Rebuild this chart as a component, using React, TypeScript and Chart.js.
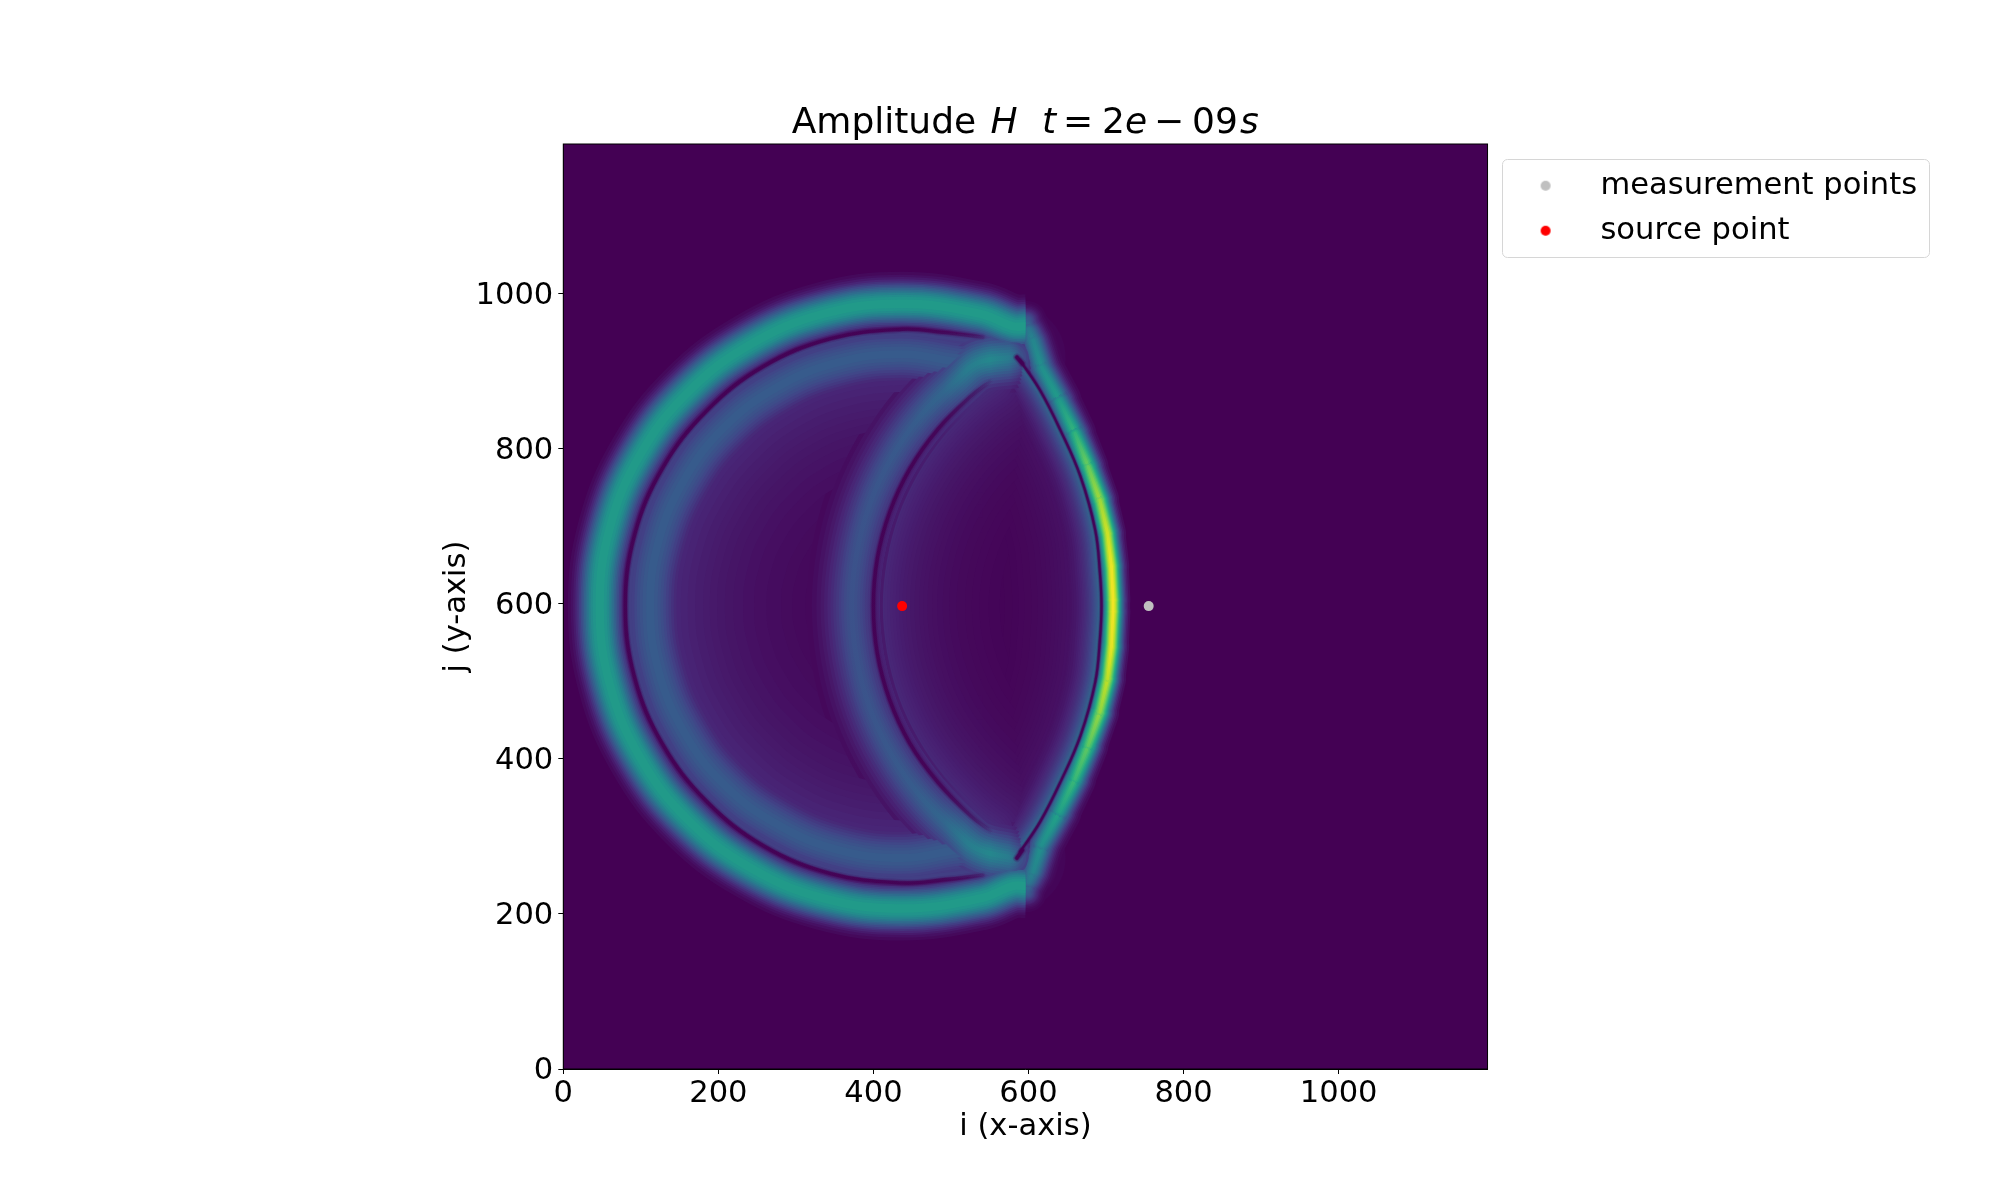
import React, { useEffect, useRef } from "react";
import { Chart, registerables } from "chart.js";
Chart.register(...registerables);

const FONT = "'DejaVu Sans'";
const titleRuns = [
  { text: "Amplitude", x: 791.7, italic: false },
  { text: "H", x: 990.5, italic: true },
  { text: "t", x: 1042, italic: true },
  { text: "=", x: 1063, italic: false },
  { text: "2", x: 1102, italic: false },
  { text: "e", x: 1125, italic: true },
  { text: "\u2212", x: 1154, italic: false },
  { text: "09", x: 1192, italic: false },
  { text: "s", x: 1240, italic: true },
];
const xTitle = "i (x-axis)";
const yTitle = "j (y-axis)";
const measurementLabel = "measurement points";
const sourceLabel = "source point";
const xTickValues = [0, 200, 400, 600, 800, 1000];
const yTickValues = [0, 200, 400, 600, 800, 1000];
const measurementPoint = [{ x: 755, y: 597 }];
const sourcePoint = [{ x: 437, y: 597 }];

const viridisRamp = ["#440154", "#482475", "#414487", "#355f8d", "#2a788e", "#21918c", "#22a884", "#44bf70", "#7ad151", "#bddf26", "#fde725"];
const levels = [0.04, 0.08, 0.13, 0.19, 0.26, 0.33, 0.41, 0.49, 0.57, 0.65, 0.73, 0.8, 0.87, 0.93, 0.98];
const fineLevels = [0.06, 0.08, 0.1, 0.12, 0.14, 0.16, 0.19, 0.22, 0.25, 0.28, 0.31, 0.34, 0.37, 0.4, 0.44, 0.48, 0.52, 0.56, 0.6, 0.64, 0.68, 0.72, 0.76, 0.8, 0.84, 0.88, 0.92, 0.96];

const outerI = [596, 580, 538, 437, 336, 242, 161, 99, 60, 47, 60, 99, 161, 242, 336, 437, 538, 580, 596];
const outerJ = [958, 958, 974, 987, 974, 935, 873, 792, 698, 597, 496, 402, 321, 259, 220, 207, 220, 236, 236];

const blueI = [564, 521, 437, 353, 275, 207, 156, 123, 112, 123, 156, 207, 275, 353, 437, 521, 564];
const blueJ = [916, 911, 922, 911, 879, 827, 760, 681, 597, 513, 434, 367, 316, 283, 272, 283, 273];

const crescentI = [580, 535, 508, 461, 423, 395, 378, 372, 378, 395, 423, 461, 508, 535, 580];
const crescentJ = [918, 911, 890, 843, 788, 728, 663, 597, 531, 466, 406, 351, 304, 283, 272];
const crescentAmpAt = [360, 450, 490, 520, 550, 575, 590];
const crescentAmp = [0.25, 0.29, 0.33, 0.42, 0.47, 0.42, 0.3];

const frontI = [598, 600, 606, 617, 640, 660, 677, 692, 702, 707, 709, 709, 707, 702, 692, 677, 660, 640, 617, 606, 600, 598];
const frontJ = [965, 955, 940, 905, 862, 820, 777, 734, 691, 648, 605, 590, 545, 503, 460, 417, 374, 332, 289, 254, 240, 228];
const frontAmp = [0.3, 0.4, 0.46, 0.5, 0.55, 0.66, 0.78, 0.87, 0.94, 0.99, 1, 1, 0.98, 0.92, 0.85, 0.76, 0.68, 0.58, 0.5, 0.46, 0.4, 0.3];
const frontSigma = [10, 12, 12.5, 12.5, 12, 11.5, 11, 10.5, 10, 9.8, 9.5, 9.5, 9.8, 10, 10.5, 11, 11.5, 12, 12.5, 12.5, 12, 10];

const darkOuterI = [541, 490, 437, 345, 258, 185, 128, 92, 80, 92, 128, 185, 258, 345, 437, 490, 541];
const darkOuterJ = [944, 950, 954, 942, 906, 849, 775, 689, 597, 505, 419, 345, 288, 252, 240, 244, 250];
const darkInnerI = [551, 526, 483, 447, 421, 405, 400, 405, 421, 447, 483, 526, 551];
const darkInnerJ = [887, 868, 825, 774, 718, 658, 597, 536, 476, 420, 370, 326, 307];
const darkFrontI = [589, 615, 641, 667, 686, 692, 694, 692, 686, 667, 641, 615, 589];
const darkFrontJ = [914, 875, 824, 764, 695, 640, 597, 554, 499, 430, 370, 319, 280];
const darkSpotI = [585, 592];
const darkSpotUpperJ = [918, 910];
const darkSpotLowerJ = [272, 282];
const darkFadeAt = [0, 440, 490, 530, 556];
const darkFade = [1, 1, 0.85, 0.45, 0];

function hexRgb(h: string) {
  return [parseInt(h.slice(1, 3), 16), parseInt(h.slice(3, 5), 16), parseInt(h.slice(5, 7), 16)];
}
function viridis(v: number) {
  const t = Math.max(0, Math.min(1, v)) * (viridisRamp.length - 1);
  const a = Math.min(Math.floor(t), viridisRamp.length - 2);
  const f = t - a;
  const c0 = hexRgb(viridisRamp[a]);
  const c1 = hexRgb(viridisRamp[a + 1]);
  const c = c0.map((c, k) => Math.round(c + (c1[k] - c) * f));
  return `rgb(${c[0]},${c[1]},${c[2]})`;
}
function pts(i: number[], j: number[]) {
  return i.map((x, k) => ({ x, y: j[k] }));
}
function base() {
  return { showLine: true, pointRadius: 0, pointHoverRadius: 0, fill: false, borderJoinStyle: "round" };
}

type Layer = { value: number; ds: any };

function constantBand(i: number[], j: number[], amp: number, sigma: number, cap: string, shape = 0.5): Layer[] {
  return levels.map((p) => ({
    value: p * amp,
    ds: {
      ...base(),
      data: pts(i, j),
      tension: 0.4,
      borderCapStyle: cap,
      borderWidth: 2 * sigma * Math.pow(-Math.log(p), shape),
      borderColor: viridis(p * amp),
    },
  }));
}

function decayBand(i: number[], j: number[], amp: number, length: number, clipPoly: { x: number; y: number }[]): Layer[] {
  return fineLevels.map((p) => ({
    value: p * amp,
    ds: {
      ...base(),
      data: pts(i, j),
      tension: 0.4,
      clipPoly,
      borderCapStyle: "round",
      borderWidth: 2 * length * -Math.log(p),
      borderColor: viridis(p * amp),
    },
  }));
}

function xGradientBand(i: number[], j: number[], at: number[], amps: number[], sigma: number, cap: string, shape = 0.5): Layer[] {
  return levels.map((p) => ({
    value: p * Math.max(...amps),
    ds: {
      ...base(),
      data: pts(i, j),
      tension: 0.4,
      borderCapStyle: cap,
      borderWidth: 2 * sigma * Math.pow(-Math.log(p), shape),
      borderColor: (c: any) => {
        const sx = c.chart.scales.x;
        const x0 = sx ? sx.getPixelForValue(at[0]) : NaN;
        const x1 = sx ? sx.getPixelForValue(at[at.length - 1]) : NaN;
        if (!Number.isFinite(x0) || !Number.isFinite(x1) || x0 === x1) return viridis(p * amps[0]);
        const g = c.chart.ctx.createLinearGradient(x0, 0, x1, 0);
        at.forEach((a, k) => g.addColorStop((sx.getPixelForValue(a) - x0) / (x1 - x0), viridis(p * amps[k])));
        return g;
      },
    },
  }));
}

function frontBand(): Layer[] {
  const out: Layer[] = [];
  for (let k = 0; k < frontI.length - 1; k++) {
    const s = (frontSigma[k] + frontSigma[k + 1]) / 2;
    const a = Math.max(frontAmp[k], frontAmp[k + 1]);
    for (const p of levels) {
      out.push({
        value: p * a,
        ds: {
          ...base(),
          data: [
            { x: frontI[k], y: frontJ[k] },
            { x: frontI[k + 1], y: frontJ[k + 1] },
          ],
          tension: 0,
          borderCapStyle: "round",
          borderWidth: 2 * s * Math.sqrt(-Math.log(p)),
          borderColor: (c: any) => {
            const sy = c.chart.scales.y;
            const y0 = sy ? sy.getPixelForValue(frontJ[0]) : NaN;
            const y1 = sy ? sy.getPixelForValue(frontJ[frontJ.length - 1]) : NaN;
            if (!Number.isFinite(y0) || !Number.isFinite(y1) || y0 === y1) return viridis(p * a);
            const g = c.chart.ctx.createLinearGradient(0, y0, 0, y1);
            frontJ.forEach((v, n) => g.addColorStop((sy.getPixelForValue(v) - y0) / (y1 - y0), viridis(p * frontAmp[n])));
            return g;
          },
        },
      });
    }
  }
  return out;
}

function darkLine(i: number[], j: number[], fade: boolean, core: number) {
  const passes = [
    { w: core * 2.2, a: 0.2 },
    { w: core * 1.5, a: 0.4 },
    { w: core, a: 0.9 },
  ];
  return passes.map(({ w, a }) => ({
    ...base(),
    data: pts(i, j),
    tension: 0.4,
    borderCapStyle: "round",
    borderWidth: w,
    borderColor: (c: any) => {
      const sx = c.chart.scales.x;
      const x0 = sx ? sx.getPixelForValue(darkFadeAt[0]) : NaN;
      const x1 = sx ? sx.getPixelForValue(darkFadeAt[darkFadeAt.length - 1]) : NaN;
      if (!fade || !Number.isFinite(x0) || !Number.isFinite(x1) || x0 === x1) return `rgba(68,1,84,${a})`;
      const g = c.chart.ctx.createLinearGradient(x0, 0, x1, 0);
      darkFadeAt.forEach((v, k) => g.addColorStop((sx.getPixelForValue(v) - x0) / (x1 - x0), `rgba(68,1,84,${a * darkFade[k]})`));
      return g;
    },
  }));
}

function dot(color: string) {
  const c = document.createElement("canvas");
  c.width = 16;
  c.height = 12;
  const x = c.getContext("2d")!;
  x.fillStyle = color;
  x.beginPath();
  x.arc(10, 6, 5, 0, Math.PI * 2);
  x.fill();
  return c;
}

const framePlugin = {
  id: "frame",
  beforeDatasetsDraw(chart: any) {
    const { ctx, chartArea: a } = chart;
    ctx.save();
    ctx.fillStyle = "#440154";
    ctx.fillRect(a.left, a.top, a.right - a.left, a.bottom - a.top);
    ctx.restore();
  },
  beforeDatasetDraw(chart: any, args: any) {
    const poly = chart.data.datasets[args.index].clipPoly;
    if (!poly) return;
    const { ctx, scales } = chart;
    ctx.save();
    ctx.beginPath();
    poly.forEach((q: any, k: number) => {
      const px = scales.x.getPixelForValue(q.x);
      const py = scales.y.getPixelForValue(q.y);
      if (k === 0) ctx.moveTo(px, py);
      else ctx.lineTo(px, py);
    });
    ctx.closePath();
    ctx.clip();
  },
  afterDatasetDraw(chart: any, args: any) {
    if (chart.data.datasets[args.index].clipPoly) chart.ctx.restore();
  },
  beforeDraw(chart: any) {
    if (chart.legend) chart.legend.top = 156;
  },
  afterDraw(chart: any) {
    const { ctx, chartArea: a } = chart;
    ctx.save();
    ctx.strokeStyle = "#000";
    ctx.lineWidth = 1;
    ctx.strokeRect(a.left, a.top, a.right - a.left, a.bottom - a.top);
    ctx.strokeStyle = "#d6d6d6";
    ctx.beginPath();
    ctx.roundRect(1502.5, 159.5, 427, 98, 5);
    ctx.stroke();
    ctx.fillStyle = "#000";
    ctx.textBaseline = "alphabetic";
    ctx.textAlign = "left";
    for (const r of titleRuns) {
      ctx.font = `${r.italic ? "italic " : ""}36px ${FONT}`;
      ctx.fillText(r.text, r.x, 133.3);
    }
    ctx.restore();
  },
};

export default function App() {
  const ref = useRef<HTMLCanvasElement>(null);
  useEffect(() => {
    const ringClip = pts(darkOuterI, darkOuterJ);
    const lensClip = [...pts(darkInnerI, darkInnerJ), ...pts(darkFrontI, darkFrontJ).reverse()];
    const layers: Layer[] = [
      ...decayBand(darkOuterI, darkOuterJ, 0.2, 85, ringClip),
      ...constantBand(blueI, blueJ, 0.29, 28, "butt"),
      ...decayBand(darkInnerI, darkInnerJ, 0.14, 50, lensClip),
      ...decayBand(darkFrontI, darkFrontJ, 0.1, 42, lensClip),
      ...decayBand(darkFrontI, darkFrontJ, 0.38, 15, lensClip),
      ...xGradientBand(crescentI, crescentJ, crescentAmpAt, crescentAmp, 26, "round", 0.6),
      ...constantBand(outerI, outerJ, 0.55, 20, "butt", 0.4),
      ...frontBand(),
    ];
    layers.sort((a, b) => b.value - a.value);
    const datasets: any[] = [
      { label: measurementLabel, data: measurementPoint, backgroundColor: "#c0c0c0", borderWidth: 0, pointRadius: 5, showLine: false },
      { label: sourceLabel, data: sourcePoint, backgroundColor: "#ff0000", borderWidth: 0, pointRadius: 5, showLine: false },
      ...darkLine(darkSpotI, darkSpotUpperJ, false, 3.5),
      ...darkLine(darkSpotI, darkSpotLowerJ, false, 3.5),
      ...darkLine(darkFrontI, darkFrontJ, false, 2.2),
      ...darkLine(darkInnerI, darkInnerJ, true, 3.4),
      ...darkLine(darkOuterI, darkOuterJ, true, 3.4),
      ...layers.map((l) => l.ds),
    ];
    const tickFont = { family: FONT, size: 30.55 };
    const chart = new Chart(ref.current!, {
      type: "scatter",
      data: { datasets },
      plugins: [framePlugin],
      options: {
        animation: false,
        responsive: false,
        devicePixelRatio: 1,
        layout: { padding: { left: 403.3, top: 144, bottom: 53, right: 72.9 } },
        plugins: {
          tooltip: { enabled: false },
          legend: {
            position: "right",
            align: "start",
            maxWidth: 600,
            labels: {
              usePointStyle: true,
              pointStyleWidth: 83.2,
              boxHeight: 12,
              padding: 14.45,
              color: "#000",
              font: tickFont,
              generateLabels: () => [
                { text: measurementLabel, pointStyle: dot("#c0c0c0"), datasetIndex: 0, fontColor: "#000", lineWidth: 0 },
                { text: sourceLabel, pointStyle: dot("#ff0000"), datasetIndex: 1, fontColor: "#000", lineWidth: 0 },
              ],
            },
          },
        },
        scales: {
          x: {
            type: "linear",
            min: 0,
            max: 1192,
            afterFit: (s: any) => { s.height = 78; },
            afterBuildTicks: (s: any) => { s.ticks = xTickValues.map((value) => ({ value })); },
            grid: { drawOnChartArea: false, drawTicks: true, tickLength: 5, color: "#000", tickColor: "#000" },
            border: { display: true, color: "#000" },
            ticks: { autoSkip: false, color: "#000", font: tickFont, padding: 2, maxRotation: 0, callback: (v: any) => String(v) },
            title: { display: true, text: xTitle, color: "#000", font: tickFont, padding: { top: 0, bottom: 1.2 } },
          },
          y: {
            type: "linear",
            min: 0,
            max: 1193,
            afterFit: (s: any) => { s.width = 160; },
            afterBuildTicks: (s: any) => { s.ticks = yTickValues.map((value) => ({ value })); },
            grid: { drawOnChartArea: false, drawTicks: true, tickLength: 5, color: "#000", tickColor: "#000" },
            border: { display: true, color: "#000" },
            ticks: { autoSkip: false, color: "#000", font: tickFont, padding: 5, labelOffset: 2.5, callback: (v: any) => String(v) },
            title: { display: true, text: yTitle, color: "#000", font: tickFont, padding: { top: 35, bottom: 0 } },
          },
        },
      } as any,
    } as any);
    return () => chart.destroy();
  }, []);
  return (
    <div style={{ position: "fixed", left: 0, top: 0, width: 2000, height: 1200, background: "#fff" }}>
      <canvas ref={ref} width={2000} height={1200} style={{ display: "block" }} />
    </div>
  );
}
